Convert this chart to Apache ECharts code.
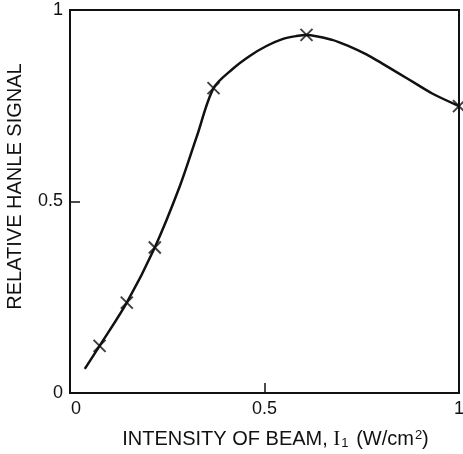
<!DOCTYPE html>
<html>
<head>
<meta charset="utf-8">
<script src="https://cdn.jsdelivr.net/npm/echarts@6/dist/echarts.min.js"></script>
<style>
  html, body { margin: 0; padding: 0; background: #fff; }
  #chart { width: 463px; height: 454px; }
</style>
</head>
<body>
<div id="chart"></div>
<script>
// Intensity of beam I1 (W/cm^2) and relative Hanle signal at the measured points
const measuredIntensity = [0.076, 0.146, 0.218, 0.369, 0.608, 1.0];
const measuredSignal    = [0.123, 0.236, 0.380, 0.796, 0.935, 0.749];

// Hand-drawn trend curve through the measurements
const curveIntensity = [0.038, 0.076, 0.146, 0.218, 0.282, 0.326, 0.369, 0.418, 0.462, 0.505, 0.546, 0.582, 0.608, 0.674, 0.718, 0.762, 0.803, 0.846, 0.890, 0.931, 1.0];
const curveSignal    = [0.063, 0.123, 0.236, 0.380, 0.539, 0.670, 0.796, 0.846, 0.880, 0.906, 0.924, 0.932, 0.935, 0.922, 0.905, 0.884, 0.860, 0.834, 0.807, 0.782, 0.749];

// Axis ticks
const xTicks = [0, 0.5, 1];
const yTicks = [0, 0.5, 1];

const FONT = '"Liberation Sans", Arial, Helvetica, sans-serif';
const INK = '#111';

const chart = echarts.init(document.getElementById('chart'), null, { renderer: 'canvas' });

const pair = (xs, ys) => xs.map((x, i) => [x, ys[i]]);

chart.setOption({
  animation: false,
  backgroundColor: '#fff',
  grid: {
    left: 70, right: 4, top: 10, bottom: 61,
    containLabel: false,
    outerBoundsMode: 'none',
    show: true, borderColor: INK, borderWidth: 2, backgroundColor: 'transparent'
  },
  xAxis: {
    type: 'value',
    min: xTicks[0], max: xTicks[xTicks.length - 1], interval: xTicks[1] - xTicks[0],
    axisLine: { show: true, lineStyle: { color: INK, width: 2 } },
    axisTick: { show: true, inside: true, length: 10, lineStyle: { color: INK, width: 1.5 } },
    splitLine: { show: false },
    axisLabel: {
      margin: 7, fontFamily: FONT, fontSize: 18, color: INK,
      formatter: v => v === 0 ? '{z|0}' : String(v),
      rich: { z: { fontFamily: FONT, fontSize: 18, color: INK, padding: [0, 0, 0, 12] } }
    },
    name: 'INTENSITY OF BEAM, {i|I}{sub|1} (W/cm{sup|2})',
    nameLocation: 'middle',
    nameGap: 32,
    nameTextStyle: {
      fontFamily: FONT, fontSize: 20, color: INK, padding: [0, 0, 0, 22],
      rich: {
        i: { fontFamily: '"Liberation Serif", "DejaVu Serif", serif', fontSize: 21, color: INK, verticalAlign: 'middle' },
        sub: { fontFamily: FONT, fontSize: 13, color: INK, verticalAlign: 'bottom', lineHeight: 13, padding: [14, 2, 0, 1] },
        sup: { fontFamily: FONT, fontSize: 13, color: INK, verticalAlign: 'top', lineHeight: 13, padding: [0, 0, 10, 1] }
      }
    }
  },
  yAxis: {
    type: 'value',
    min: yTicks[0], max: yTicks[yTicks.length - 1], interval: yTicks[1] - yTicks[0],
    axisLine: { show: true, lineStyle: { color: INK, width: 2 } },
    axisTick: { show: true, inside: true, length: 10, lineStyle: { color: INK, width: 1.5 } },
    splitLine: { show: false },
    axisLabel: { margin: 7, fontFamily: FONT, fontSize: 18, color: INK },
    name: 'RELATIVE HANLE SIGNAL',
    nameLocation: 'middle',
    nameGap: 45,
    nameTextStyle: { fontFamily: FONT, fontSize: 20, color: INK, padding: [0, 0, 0, 30] }
  },
  series: [
    {
      type: 'line',
      data: pair(curveIntensity, curveSignal),
      smooth: 0.3,
      showSymbol: false,
      lineStyle: { color: INK, width: 2.5 },
      z: 2
    },
    {
      type: 'scatter',
      data: pair(measuredIntensity, measuredSignal),
      symbol: 'path://M0,0L10,10M10,0L0,10',
      symbolSize: 12,
      itemStyle: { color: 'transparent', borderColor: INK, borderWidth: 2 },
      z: 3
    }
  ]
});
</script>
</body>
</html>
